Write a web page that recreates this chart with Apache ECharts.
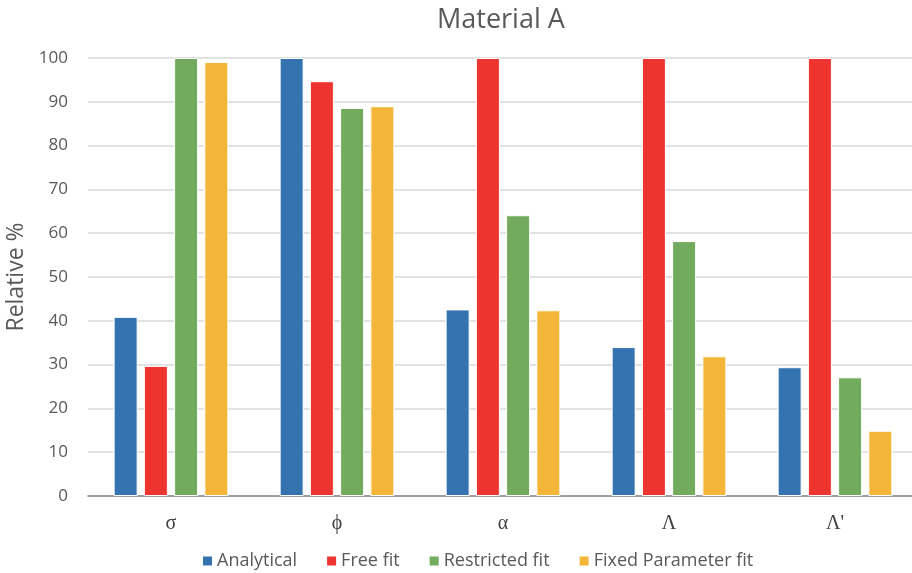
<!DOCTYPE html>
<html>
<head>
<meta charset="utf-8">
<script src="https://cdn.jsdelivr.net/npm/echarts@6/dist/echarts.min.js"></script>
<style>
html,body{margin:0;padding:0;background:#fff;}
#chart{width:912px;height:573px;}
</style>
</head>
<body>
<div id="chart"></div>
<script>
const categories = ["σ", "ϕ", "α", "Λ", "Λ'"];
const seriesNames = ["Analytical", "Free fit", "Restricted fit", "Fixed Parameter fit"];
const analytical = [40.9, 100, 42.6, 34.0, 29.4];
const freeFit = [29.7, 94.7, 100, 100, 100];
const restrictedFit = [100, 88.6, 64.1, 58.2, 27.1];
const fixedParamFit = [99.1, 89.0, 42.4, 31.9, 14.9];
const yTicks = [0, 10, 20, 30, 40, 50, 60, 70, 80, 90, 100];
const colors = ["#3473B0", "#EE342E", "#72AA5E", "#F4B638"];

const values = [analytical, freeFit, restrictedFit, fixedParamFit];
const chart = echarts.init(document.getElementById('chart'));
const font = "'Open Sans', 'Noto Sans', sans-serif";
chart.setOption({
  animation: false,
  color: colors,
  title: {
    text: 'Material A',
    left: 432, top: 2,
    textStyle: {fontFamily: font, fontSize: 27, fontWeight: 'normal', color: '#595959'}
  },
  legend: {
    data: seriesNames,
    left: 196, top: 547,
    icon: 'rect', itemWidth: 11, itemHeight: 11, itemGap: 28,
    textStyle: {fontFamily: font, fontSize: 18, color: '#595959', padding: [0, 0, 0, -1]}
  },
  grid: {left: 88, right: -6, top: 58, bottom: 77, containLabel: false, outerBoundsMode: 'none'},
  xAxis: {
    type: 'category',
    data: categories,
    axisLine: {lineStyle: {color: '#868686', width: 1.5}},
    axisTick: {show: false},
    axisLabel: {fontFamily: "'Liberation Serif', 'DejaVu Serif', serif", fontSize: 20, color: '#404040', margin: 18}
  },
  yAxis: {
    type: 'value',
    min: yTicks[0], max: yTicks[yTicks.length - 1], interval: 10,
    name: 'Relative %',
    nameLocation: 'middle',
    nameGap: 52,
    nameTextStyle: {fontFamily: font, fontSize: 23, color: '#595959'},
    axisLine: {show: false},
    axisTick: {show: false},
    splitLine: {lineStyle: {color: '#D9D9D9', width: 1.5}},
    axisLabel: {fontFamily: font, fontSize: 17, color: '#595959', margin: 20}
  },
  series: seriesNames.map((n, i) => ({
    name: n,
    type: 'bar',
    data: values[i],
    barWidth: 24,
    barGap: '26%',
    itemStyle: {color: colors[i], borderColor: '#ffffff', borderWidth: 1}
  }))
});
</script>
</body>
</html>
